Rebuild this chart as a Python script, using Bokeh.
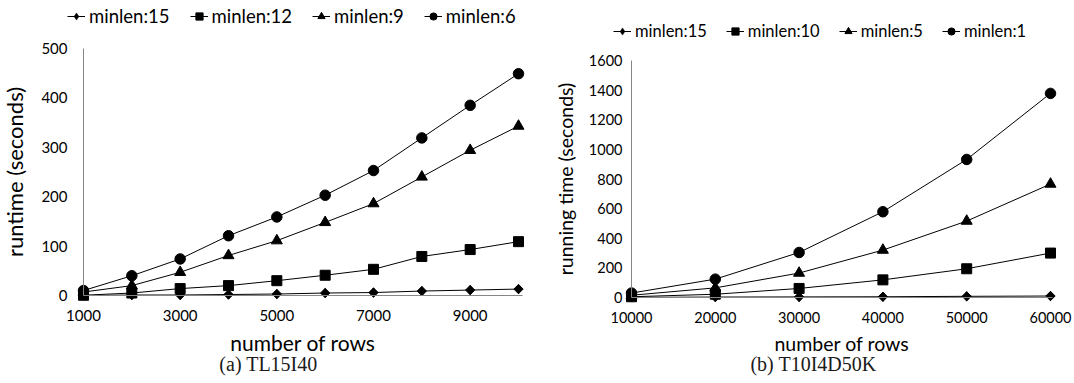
import numpy as np
from bokeh.plotting import figure
from bokeh.layouts import row
from bokeh.models import Legend, LegendItem, FixedTicker, Label, Range1d
from bokeh.embed import file_html
from bokeh.resources import INLINE

# ---------------- data ----------------
left_x = [1000, 2000, 3000, 4000, 5000, 6000, 7000, 8000, 9000, 10000]
left_minlen15 = [0, 1, 1, 2, 3, 5, 6, 9, 11, 13]
left_minlen12 = [0.5, 5, 14, 20, 30, 41, 53, 79, 93, 109]
left_minlen9 = [7, 20, 47, 81, 111, 148, 186, 240, 294, 343]
left_minlen6 = [10, 40, 74, 121, 159, 203, 253, 319, 385, 449]
left_labels = ["minlen:15", "minlen:12", "minlen:9", "minlen:6"]
left_xticks = [1000, 3000, 5000, 7000, 9000]
left_yticks = [0, 100, 200, 300, 400, 500]

right_x = [10000, 20000, 30000, 40000, 50000, 60000]
right_minlen15 = [1, 3, 4, 5, 8, 10]
right_minlen10 = [5, 22, 61, 119, 194, 300]
right_minlen5 = [15, 65, 165, 320, 516, 766]
right_minlen1 = [30, 124, 304, 579, 932, 1378]
right_labels = ["minlen:15", "minlen:10", "minlen:5", "minlen:1"]
right_xticks = [10000, 20000, 30000, 40000, 50000, 60000]
right_yticks = [0, 200, 400, 600, 800, 1000, 1200, 1400, 1600]

FONT = "Lato"
AXIS_COLOR = "#868686"
W, H = 537, 383

MARKERS = [
    dict(marker="square", size=6.6, angle=np.pi / 4),   # diamond (rotated square)
    dict(marker="square", size=10, angle=0),
    dict(marker="triangle", size=11, angle=0),
    dict(marker="circle", size=10.5, angle=0),
]


def make_panel(xs, series, labels, xticks, yticks, xmap, ymap, xbounds, ybounds,
               ylabel, tick_size, xlabel_size, ylabel_size, ystandoff, ylab_standoff,
               xlab_standoff, legend_loc, legend_font, legend_spacing, caption, cap_pos):
    x0, px0, x1, px1 = xmap
    kx = (px1 - px0) / (x1 - x0)
    x_start = x0 - px0 / kx
    x_end = x0 + (W - px0) / kx
    y0, py0, y1, py1 = ymap  # py measured from top
    ky = (py0 - py1) / (y1 - y0)
    y_end = y0 + py0 / ky
    y_start = y0 - (H - py0) / ky

    p = figure(width=W, height=H, output_backend="svg", toolbar_location=None,
               title=None,
               x_range=Range1d(x_start, x_end), y_range=Range1d(y_start, y_end),
               min_border=0)
    p.outline_line_color = None
    p.xgrid.visible = False
    p.ygrid.visible = False
    p.background_fill_color = "white"
    p.border_fill_color = "white"

    items = []
    for i, (ys, lab, mk) in enumerate(zip(series, labels, MARKERS)):
        lr = p.line(xs, ys, line_color="black", line_width=1)
        if i == 0:
            # diamond drawn underneath the rotated square: supplies the legend marker
            lg = p.scatter(xs, ys, marker="diamond", size=9.5, fill_color="black",
                           line_color="black", line_width=0.5)
        sr = p.scatter(xs, ys, marker=mk["marker"], size=mk["size"], angle=mk["angle"],
                       fill_color="black", line_color="black")
        items.append(LegendItem(label=lab, renderers=[lr, lg if i == 0 else sr]))

    for ax in (p.xaxis[0], p.yaxis[0]):
        ax.axis_line_color = AXIS_COLOR
        ax.axis_line_width = 1
        ax.major_tick_line_color = None
        ax.minor_tick_line_color = None
        ax.major_tick_out = 0
        ax.major_tick_in = 0
        ax.minor_tick_out = 0
        ax.minor_tick_in = 0
        ax.major_label_text_font = FONT
        ax.major_label_text_font_size = tick_size
        ax.major_label_text_color = "black"
        ax.axis_label_text_font = FONT
        ax.axis_label_text_font_style = "normal"
        ax.axis_label_text_color = "black"
    p.xaxis.axis_label_text_font_size = xlabel_size
    p.yaxis.axis_label_text_font_size = ylabel_size

    p.xaxis.fixed_location = ybounds[0]
    p.yaxis.fixed_location = xbounds[0]
    p.xaxis.bounds = xbounds
    p.yaxis.bounds = ybounds
    p.xaxis.ticker = FixedTicker(ticks=xticks)
    p.yaxis.ticker = FixedTicker(ticks=yticks)
    p.xaxis.major_label_standoff = 14
    p.yaxis.major_label_standoff = ystandoff
    p.xaxis.axis_label = "number of rows"
    p.xaxis.axis_label_standoff = xlab_standoff
    p.yaxis.axis_label = ylabel
    p.yaxis.axis_label_standoff = ylab_standoff

    legend = Legend(items=items, location=legend_loc, orientation="horizontal",
                    padding=0, margin=0, spacing=legend_spacing,
                    glyph_width=18, glyph_height=18, label_height=18,
                    label_standoff=4, label_text_font=FONT,
                    label_text_font_size=legend_font, label_text_color="black",
                    border_line_color=None, background_fill_alpha=0)
    p.add_layout(legend)

    cap = Label(x=cap_pos[0], y=cap_pos[1], x_units="screen", y_units="screen",
                text=caption, text_font="Liberation Serif", text_font_size="20px",
                text_align="center", text_baseline="middle", text_color="#1a1a1a")
    p.add_layout(cap)
    return p


left = make_panel(left_x, [left_minlen15, left_minlen12, left_minlen9, left_minlen6],
                  left_labels, left_xticks, left_yticks,
                  (1000, 83, 10000, 518), (0, 295, 500, 48),
                  (1000, 10080), (0, 500),
                  "runtime (seconds)", "15px", "21px", "22px", 16, 10, 6,
                  (67, 356), "18.5px", 20, "(a) TL15I40", (268, 20))

right = make_panel(right_x, [right_minlen15, right_minlen10, right_minlen5, right_minlen1],
                   right_labels, right_xticks, right_yticks,
                   (10000, 94, 60000, 513), (0, 297, 1600, 60),
                   (10000, 60240), (0, 1600),
                   "running time (seconds)", "14.5px", "19.5px", "19.5px", 9, 9, 6,
                   (76, 342), "16.5px", 19, "(b) T10I4D50K", (276, 20))

layout = row(left, right)
open("out.html", "w").write(file_html(layout, INLINE))
